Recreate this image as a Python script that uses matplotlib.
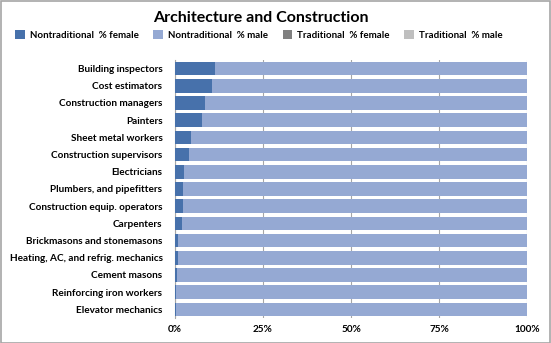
import matplotlib
matplotlib.use("Agg")
import matplotlib.pyplot as plt
from matplotlib.patches import Patch, Rectangle
import numpy as np

categories = ["Building inspectors", "Cost estimators", "Construction managers", "Painters",
              "Sheet metal workers", "Construction supervisors", "Electricians",
              "Plumbers, and pipefitters", "Construction equip. operators", "Carpenters",
              "Brickmasons and stonemasons", "Heating, AC, and refrig. mechanics",
              "Cement masons", "Reinforcing iron workers", "Elevator mechanics"]
nontrad_female = [11.4, 10.5, 8.4, 7.8, 4.6, 4.1, 2.6, 2.2, 2.3, 1.9, 0.9, 0.8, 0.7, 0.2, 0.2]
nontrad_male = [100 - v for v in nontrad_female]
series_names = ["Nontraditional  % female", "Nontraditional  % male",
                "Traditional  % female", "Traditional  % male"]
colors = ["#4771AB", "#95A9D3", "#808080", "#BFBFBF"]
xticks = [0, 25, 50, 75, 100]
xticklabels = ["0%", "25%", "50%", "75%", "100%"]

plt.rcParams['font.family'] = ['Lato', 'DejaVu Sans']
plt.rcParams['font.weight'] = 'bold'

fig = plt.figure(figsize=(5.51, 3.43), dpi=100)
W, H = 551, 343
ax = fig.add_axes([175 / W, 1 - 318 / H, (527 - 175) / W, (318 - 60) / H])

y = np.arange(len(categories))
ax.barh(y, nontrad_female, height=0.8, color=colors[0], zorder=3)
ax.barh(y, nontrad_male, left=nontrad_female, height=0.8, color=colors[1], zorder=3)

ax.set_xlim(0, 100)
ax.set_ylim(len(categories) - 0.5, -0.5)
ax.set_yticks(y)
ax.set_yticklabels(categories, fontsize=7.2, fontweight='bold')
ax.set_xticks(xticks)
ax.set_xticklabels(xticklabels, fontsize=7.2, fontweight='bold')
ax.tick_params(axis='both', length=0, pad=5)
ax.tick_params(axis='y', pad=9)
ax.xaxis.grid(True, color='#A6A6A6', linewidth=0.8, zorder=0)
for s in ['top', 'right', 'bottom']:
    ax.spines[s].set_visible(False)
ax.spines['left'].set_color('#A6A6A6')
ax.spines['left'].set_linewidth(0.8)

fig.text(261 / W, 1 - 18 / H, "Architecture and Construction", ha='center', va='center',
         fontsize=11.5, fontweight='bold')

handles = [Patch(facecolor=c, edgecolor='none') for c in colors]
fig.legend(handles, series_names, loc='center', bbox_to_anchor=(259 / W, 1 - 35 / H), ncol=4,
           frameon=False, handlelength=1.0, handleheight=1.0,
           handletextpad=0.5, columnspacing=1.5, prop={'weight': 'bold', 'size': 7})

fig.patches.append(Rectangle((0.5 / W, 0.5 / H), 1 - 1.5 / W, 1 - 1.5 / H,
                             transform=fig.transFigure, fill=False,
                             edgecolor='#A6A6A6', linewidth=1.2))

fig.savefig("out.png", dpi=100)
